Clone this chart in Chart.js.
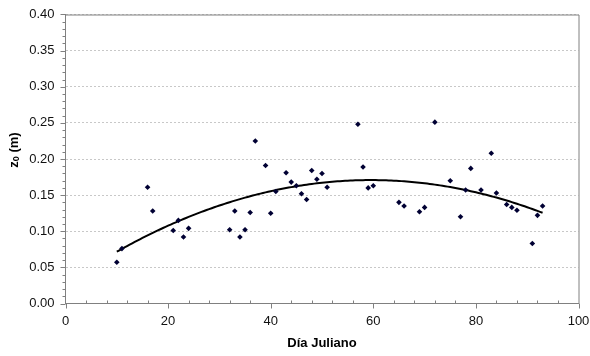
<!DOCTYPE html>
<html lang="es">
<head>
    <meta charset="UTF-8">
    <title>z0 vs Día Juliano</title>
    <script src="https://cdn.jsdelivr.net/npm/chart.js"></script>
    <style>
        html, body { margin: 0; padding: 0; background: #fff; }
        #wrap { width: 590px; height: 356px; }
    </style>
</head>
<body>
<div id="wrap"><canvas id="z0Chart" width="590" height="356"></canvas></div>

<script>
    // Data
    const days = [10, 11, 16, 17, 21, 22, 23, 24, 32, 33, 34, 35, 36, 37, 39, 40,
        41, 43, 44, 45, 46, 47, 48, 49, 50, 51, 57, 58, 59, 60, 65, 66,
        69, 70, 72, 75, 77, 78, 79, 81, 83, 84, 86, 87, 88, 91, 92, 93];
    const z0 = [0.057, 0.076, 0.161, 0.128, 0.101, 0.115, 0.092, 0.104, 0.102, 0.128, 0.092, 0.102, 0.126, 0.225, 0.191, 0.125,
        0.155, 0.181, 0.168, 0.163, 0.152, 0.144, 0.184, 0.172, 0.180, 0.161, 0.248, 0.189, 0.160, 0.163, 0.140, 0.135,
        0.127, 0.133, 0.251, 0.170, 0.120, 0.157, 0.187, 0.157, 0.208, 0.153, 0.137, 0.133, 0.129, 0.083, 0.122, 0.135];
    const xTicks = [0, 20, 40, 60, 80, 100];
    const yTicks = [0, 0.05, 0.10, 0.15, 0.20, 0.25, 0.30, 0.35, 0.40];

    // 2nd order polynomial trendline (least squares, like Excel)
    function quadFit(xs, ys) {
        let s = [0, 0, 0, 0, 0], t = [0, 0, 0];
        xs.forEach((x, i) => {
            for (let k = 0; k < 5; k++) s[k] += Math.pow(x, k);
            for (let k = 0; k < 3; k++) t[k] += ys[i] * Math.pow(x, k);
        });
        const m = [[s[0], s[1], s[2], t[0]], [s[1], s[2], s[3], t[1]], [s[2], s[3], s[4], t[2]]];
        for (let i = 0; i < 3; i++) {
            for (let j = i + 1; j < 3; j++) {
                const f = m[j][i] / m[i][i];
                for (let k = i; k < 4; k++) m[j][k] -= f * m[i][k];
            }
        }
        const c = [0, 0, 0];
        for (let i = 2; i >= 0; i--) {
            let v = m[i][3];
            for (let k = i + 1; k < 3; k++) v -= m[i][k] * c[k];
            c[i] = v / m[i][i];
        }
        return c;
    }
    const coef = quadFit(days, z0);
    const trend = [];
    for (let x = days[0]; x <= days[days.length - 1]; x += 0.5) {
        trend.push({ x: x, y: coef[0] + coef[1] * x + coef[2] * x * x });
    }

    const FONT = "'Liberation Sans', Arial, sans-serif";

    // frame, tick marks and the y title
    const excelAxes = {
        id: 'excelAxes',
        afterDraw(chart) {
            const ctx = chart.ctx, a = chart.chartArea;
            const xs = chart.scales.x, ys = chart.scales.y;
            ctx.save();
            ctx.strokeStyle = '#808080';
            ctx.lineWidth = 1;
            ctx.beginPath();
            ctx.moveTo(a.left, a.top + 0.5);
            ctx.lineTo(a.right + 0.5, a.top + 0.5);
            ctx.lineTo(a.right + 0.5, a.bottom);
            // y ticks
            for (let v = 0; v <= 0.4001; v += 0.01) {
                const py = Math.round(ys.getPixelForValue(v)) + 0.5;
                const major = Math.abs(v / 0.05 - Math.round(v / 0.05)) < 1e-6;
                ctx.moveTo(a.left - (major ? 5 : 3), py);
                ctx.lineTo(a.left, py);
            }
            // x ticks
            for (let v = 0; v <= 100; v += 4) {
                const px = Math.round(xs.getPixelForValue(v)) + 0.5;
                if (v % 20 === 0) {
                    ctx.moveTo(px, a.bottom);
                    ctx.lineTo(px, a.bottom + 5);
                } else {
                    ctx.moveTo(px, a.bottom);
                    ctx.lineTo(px, a.bottom - 3);
                }
            }
            ctx.stroke();

            // y axis title: z0 (m) with subscript
            ctx.translate(14, 150);
            ctx.rotate(-Math.PI / 2);
            ctx.fillStyle = '#000';
            ctx.textBaseline = 'middle';
            const big = 'bold 13px ' + FONT, small = 'bold 9px ' + FONT;
            ctx.font = big; const wz = ctx.measureText('z').width;
            ctx.font = small; const w0 = ctx.measureText('0').width;
            ctx.font = big; const wm = ctx.measureText(' (m)').width;
            let x0 = -(wz + w0 + wm) / 2;
            ctx.fillText('z', x0, 0);
            ctx.font = small;
            ctx.fillText('0', x0 + wz, 3);
            ctx.font = big;
            ctx.fillText(' (m)', x0 + wz + w0, 0);
            ctx.restore();
        }
    };

    new Chart(document.getElementById('z0Chart'), {
        type: 'scatter',
        data: {
            datasets: [{
                label: 'z0',
                data: days.map((d, i) => ({ x: d, y: z0[i] })),
                pointStyle: 'rectRot',
                pointRadius: 2.8,
                pointBorderWidth: 0,
                backgroundColor: '#000033',
                borderColor: '#000033'
            }, {
                label: 'Polinómica',
                data: trend,
                showLine: true,
                pointRadius: 0,
                borderColor: '#000',
                borderWidth: 2,
                tension: 0
            }]
        },
        options: {
            responsive: false,
            animation: false,
            layout: { padding: { top: 14.5, right: 11.5, left: 0, bottom: 0 } },
            plugins: { legend: { display: false }, tooltip: { enabled: false } },
            scales: {
                x: {
                    type: 'linear',
                    min: 0, max: 100,
                    afterBuildTicks: s => { s.ticks = xTicks.map(v => ({ value: v })); },
                    afterFit: s => { s.height = 52.5; s.paddingLeft = 0; s.paddingRight = 0; },
                    ticks: { font: { family: FONT, size: 13 }, color: '#111', padding: 10, maxRotation: 0 },
                    grid: { display: false, drawTicks: false },
                    border: { color: '#808080', width: 1 },
                    title: {
                        display: true, text: 'Día Juliano', color: '#000',
                        font: { family: FONT, size: 13, weight: 'bold' },
                        padding: { top: 0, bottom: 5 }
                    }
                },
                y: {
                    min: 0, max: 0.4,
                    afterBuildTicks: s => { s.ticks = yTicks.map(v => ({ value: v })); },
                    afterFit: s => { s.width = 65.5; s.paddingTop = 0; s.paddingBottom = 0; },
                    ticks: {
                        font: { family: FONT, size: 13 }, color: '#111', padding: 11,
                        callback: v => v.toFixed(2)
                    },
                    grid: { color: '#c8c8c8', drawTicks: false, lineWidth: 1 },
                    border: { color: '#808080', width: 1, dash: [2, 2] }
                }
            }
        },
        plugins: [excelAxes]
    });
</script>
</body>
</html>
